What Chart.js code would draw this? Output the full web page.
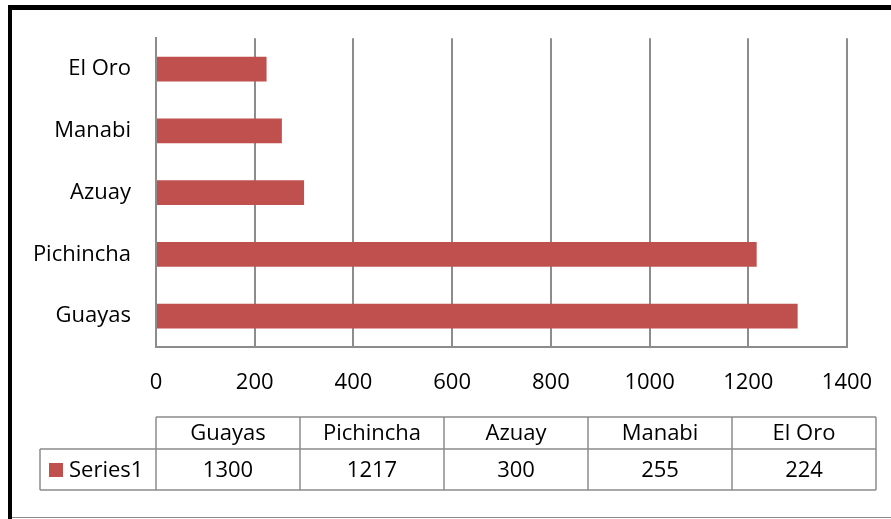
<!DOCTYPE html>
<html>
<head>
<meta charset="utf-8">
<script src="https://cdn.jsdelivr.net/npm/chart.js@4/dist/chart.umd.min.js"></script>
<style>
  html, body { margin: 0; padding: 0; background: #fff; }
  #wrap { width: 891px; height: 519px; position: relative; }
</style>
</head>
<body>
<div id="wrap"><canvas id="chart" width="891" height="519"></canvas></div>
<script>
// data
const categories = ['Guayas', 'Pichincha', 'Azuay', 'Manabi', 'El Oro'];
const series1 = [1300, 1217, 300, 255, 224];
const seriesName = 'Series1';
const xTicks = [0, 200, 400, 600, 800, 1000, 1200, 1400];

const FONT = '"Open Sans", sans-serif';
const BAR = '#C0504D';
const GRID = '#8c8c8c';

// frame round the chart (thick black top/left, thin grey bottom)
const framePlugin = {
  id: 'frame',
  afterDraw(chart) {
    const ctx = chart.ctx;
    ctx.save();
    ctx.fillStyle = '#000';
    ctx.fillRect(8, 5, 891 - 8, 5);
    ctx.fillRect(8, 5, 4, 519 - 5);
    ctx.fillStyle = '#8c8c8c';
    ctx.fillRect(12, 517, 891 - 12, 1);
    ctx.restore();
  }
};

// data table under the axis
const tablePlugin = {
  id: 'dataTable',
  afterDraw(chart) {
    const ctx = chart.ctx;
    const left = chart.chartArea.left;
    const colW = 144;
    const top = 417, headH = 32, rowH = 41;
    const legLeft = 40;
    const n = categories.length;
    const right = left + colW * n;

    ctx.save();
    ctx.strokeStyle = GRID;
    ctx.lineWidth = 1.5;
    ctx.beginPath();
    ctx.moveTo(left, top); ctx.lineTo(right, top);
    ctx.moveTo(legLeft, top + headH); ctx.lineTo(right, top + headH);
    ctx.moveTo(legLeft, top + headH + rowH); ctx.lineTo(right, top + headH + rowH);
    ctx.moveTo(legLeft, top + headH); ctx.lineTo(legLeft, top + headH + rowH);
    for (let i = 0; i <= n; i++) {
      const x = left + colW * i;
      ctx.moveTo(x, top); ctx.lineTo(x, top + headH + rowH);
    }
    ctx.stroke();

    ctx.fillStyle = '#000';
    ctx.font = '22px ' + FONT;
    ctx.textAlign = 'center';
    ctx.textBaseline = 'middle';
    categories.forEach((c, i) => {
      const cx = left + colW * i + colW / 2;
      ctx.fillText(c, cx, top + headH / 2 + 1);
      ctx.fillText(String(series1[i]), cx, top + headH + rowH / 2 + 1);
    });

    // legend key
    ctx.fillStyle = BAR;
    ctx.fillRect(49, 463, 14, 14);
    ctx.fillStyle = '#000';
    ctx.textAlign = 'left';
    ctx.fillText(seriesName, 69, top + headH + rowH / 2 + 1);
    ctx.restore();
  }
};

new Chart(document.getElementById('chart').getContext('2d'), {
  type: 'bar',
  data: {
    labels: categories,
    datasets: [{
      label: seriesName,
      data: series1,
      backgroundColor: BAR,
      barPercentage: 0.4,
      categoryPercentage: 1
    }]
  },
  options: {
    indexAxis: 'y',
    responsive: false,
    animation: false,
    layout: { padding: { left: 0, top: 38, right: 44, bottom: 112 } },
    scales: {
      x: {
        min: 0,
        max: 1400,
        afterBuildTicks: (scale) => { scale.ticks = xTicks.map(v => ({ value: v })); },
        afterFit: (scale) => { scale.height = 60; scale.paddingLeft = 0; scale.paddingRight = 0; },
        grid: { color: GRID, lineWidth: 2, drawTicks: false },
        border: { color: GRID, width: 2 },
        ticks: {
          color: '#000', font: { family: FONT, size: 22 }, padding: 23, maxRotation: 0,
          callback: (v) => String(v)
        }
      },
      y: {
        reverse: true,
        afterFit: (scale) => { scale.width = 156; },
        grid: { display: false, drawTicks: false },
        border: { display: true, color: GRID, width: 2 },
        ticks: { color: '#000', font: { family: FONT, size: 22 }, padding: 25 }
      }
    },
    plugins: { legend: { display: false }, tooltip: { enabled: false } }
  },
  plugins: [tablePlugin, framePlugin]
});
</script>
</body>
</html>
